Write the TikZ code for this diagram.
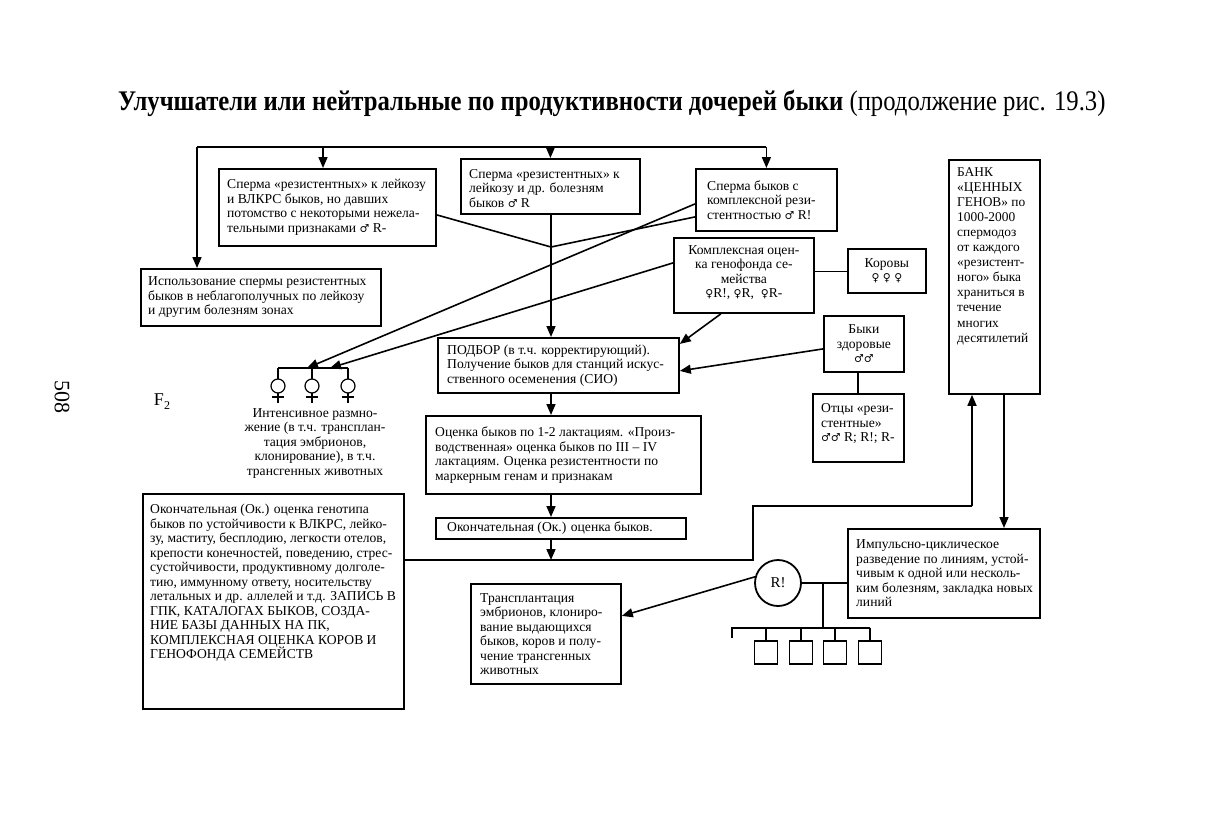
\documentclass[tikz,border=0pt]{standalone}
\usepackage{fontspec}
\setmainfont{Liberation Serif}
\newfontfamily\symfont[Scale=0.8]{DejaVu Serif}
\newcommand{\Ml}{{\symfont ♂}}
\newcommand{\Fm}{{\symfont ♀}}
\newcommand{\fsA}{\fontsize{13.6}{14.5}\selectfont}
\newcommand{\fsC}{\fontsize{13.4}{15.1}\selectfont}
\usetikzlibrary{arrows.meta}
\begin{document}
\begin{tikzpicture}[x=1pt,y=-1pt,
  bx/.style={draw, line width=1.8pt, inner sep=0pt, anchor=north west},
  tx/.style={inner sep=0pt, align=left, anchor=west, font=\fsA},
  txc/.style={inner sep=0pt, align=center, font=\fsA},
  ln/.style={line width=1.6pt},
  arr/.style={line width=1.6pt, -{Triangle[length=11pt,width=9pt]}}]
\useasboundingbox (0,0) rectangle (1225,815);
\fill[white] (0,0) rectangle (1225,815);

% title and page marks
\node[inner sep=0pt, anchor=west] (title) at (118,103) {\scalebox{1}[1.15]{\fontsize{24.7}{28}\selectfont\textbf{Улучшатели или нейтральные по продуктивности дочерей быки} (продолжение рис. 19.3)}};
\node[inner sep=0pt, rotate=-90] (page) at (62,397) {\fontsize{22}{22}\selectfont 508};
\node[inner sep=0pt] (ftwo) at (162,402) {\fontsize{18}{18}\selectfont F\raisebox{-4pt}{\fontsize{12}{12}\selectfont 2}};

% boxes
\node[bx, minimum width=217pt, minimum height=77pt] (b1) at (218,168) {};
\node[tx] (b1t) at ([xshift=9pt]b1.west) {Сперма «резистентных» к лейкозу\\и ВЛКРС быков, но давших\\потомство с некоторыми нежела-\\тельными признаками \Ml{} R-};
\node[bx, minimum width=179pt, minimum height=55pt] (b2) at (460,158) {};
\node[tx] (b2t) at ([xshift=9pt,yshift=-2pt]b2.west) {Сперма «резистентных» к\\лейкозу и др. болезням\\быков \Ml{} R};
\node[bx, minimum width=141pt, minimum height=62pt] (b3) at (695,168) {};
\node[tx] (b3t) at ([xshift=12pt]b3.west) {Сперма быков с\\комплексной рези-\\стентностью \Ml{} R!};
\node[bx, minimum width=91pt, minimum height=234pt] (bank) at (948,159) {};
\node[tx, anchor=north west, font=\fsC] (bankt) at ([xshift=9pt,yshift=-8pt]bank.north west) {БАНК\\«ЦЕННЫХ\\ГЕНОВ» по\\1000-2000\\спермодоз\\от каждого\\«резистент-\\ного» быка\\храниться в\\течение\\многих\\десятилетий};
\node[bx, minimum width=240pt, minimum height=57pt] (use) at (140,268) {};
\node[tx] (uset) at ([xshift=8pt]use.west) {Использование спермы резистентных\\быков в неблагополучных по лейкозу\\и другим болезням зонах};
\node[bx, minimum width=140pt, minimum height=75pt] (kompl) at (673,237) {};
\node[txc] (komplt) at ([yshift=3pt]kompl.center) {Комплексная оцен-\\ка генофонда се-\\мейства\\\Fm R!, \Fm R, \ \Fm R-};
\node[bx, minimum width=78pt, minimum height=44pt] (cows) at (847,248) {};
\node[txc] (cowst) at (cows.center) {Коровы\\\Fm\ \Fm\ \Fm};
\node[bx, minimum width=80pt, minimum height=56pt] (bulls) at (823,315) {};
\node[txc] (bullst) at (bulls.center) {Быки\\здоровые\\\Ml\Ml};
\node[bx, minimum width=91pt, minimum height=68pt] (fath) at (812,393) {};
\node[tx] (fatht) at ([xshift=9pt,yshift=4pt]fath.west) {Отцы «рези-\\стентные»\\\Ml\Ml{} R; R!; R-};
\node[bx, minimum width=241pt, minimum height=55pt] (podbor) at (437,337) {};
\node[tx] (podbort) at ([xshift=10pt]podbor.west) {ПОДБОР (в т.ч. корректирующий).\\Получение быков для станций искус-\\ственного осеменения (СИО)};
\node[bx, minimum width=275pt, minimum height=78pt] (ocenka) at (425,415) {};
\node[tx] (ocenkat) at ([xshift=10pt]ocenka.west) {Оценка быков по 1-2 лактациям. «Произ-\\водственная» оценка быков по III – IV\\лактациям. Оценка резистентности по\\маркерным генам и признакам};
\node[bx, minimum width=250pt, minimum height=21pt] (ok) at (435,517) {};
\node[tx] (okt) at ([xshift=12pt]ok.west) {Окончательная (Ок.) оценка быков.};
\node[bx, minimum width=261pt, minimum height=215pt] (big) at (142,493) {};
\node[tx, anchor=north west] (bigt) at ([xshift=8pt,yshift=-11pt]big.north west) {Окончательная (Ок.) оценка генотипа\\быков по устойчивости к ВЛКРС, лейко-\\зу, маститу, бесплодию, легкости отелов,\\крепости конечностей, поведению, стрес-\\сустойчивости, продуктивному долголе-\\тию, иммунному ответу, носительству\\летальных и др. аллелей и т.д. ЗАПИСЬ В\\ГПК, КАТАЛОГАХ БЫКОВ, СОЗДА-\\НИЕ БАЗЫ ДАННЫХ НА ПК,\\КОМПЛЕКСНАЯ ОЦЕНКА КОРОВ И\\ГЕНОФОНДА СЕМЕЙСТВ};
\node[bx, minimum width=150pt, minimum height=100pt] (transpl) at (470,583) {};
\node[tx] (transplt) at ([xshift=10pt]transpl.west) {Трансплантация\\эмбрионов, клониро-\\вание выдающихся\\быков, коров и полу-\\чение трансгенных\\животных};
\node[bx, minimum width=192pt, minimum height=89pt] (impuls) at (847,528) {};
\node[tx] (impulst) at ([xshift=9pt]impuls.west) {Импульсно-циклическое\\разведение по линиям, устой-\\чивым к одной или несколь-\\ким болезням, закладка новых\\линий};
\node[draw, circle, line width=1.8pt, minimum size=46pt, inner sep=0pt, font=\fontsize{15}{15}\selectfont] (R) at (778,583) {R!};

% female group
\node[txc] (femt) at (315,443) {Интенсивное размно-\\жение (в т.ч. трансплан-\\тация эмбрионов,\\клонирование), в т.ч.\\трансгенных животных};
\coordinate (fa1) at (307,368);
\coordinate (fa2) at (330,368);
\draw[ln] (278,368) -- (348,368);
\foreach \xx in {278,312,348}{
  \draw[ln] (\xx,368) -- (\xx,379);
  \draw[line width=1.2pt] (\xx,386) circle (7);
  \draw[line width=1.2pt] (\xx,393) -- (\xx,403);
  \draw[line width=1.2pt] (\xx-6,397) -- (\xx+6,397);
}

% top distribution line
\coordinate (tl) at (197,147);
\coordinate (t1) at (323,147);
\draw[ln] (tl) -- (b3.north |- tl);
\draw[arr] (tl) -- (tl |- use.north);
\draw[arr] (t1) -- (t1 |- b1.north);
\draw[arr] (b2.north |- tl) -- (b2.north);
\draw[arr] (b3.north |- tl) -- (b3.north);

% V junction and main column
\coordinate (vj) at (551,247);
\draw[ln] ([yshift=-7.5pt]b1.east) -- (vj) -- ([yshift=-17pt]b3.west);
\draw[arr] (vj |- b2.south) -- (vj |- podbor.north);
\draw[arr] (vj |- podbor.south) -- (vj |- ocenka.north);
\draw[arr] (vj |- ocenka.south) -- (vj |- ok.north);

% to female group
\draw[arr] ([yshift=-4pt]b3.west) -- (fa1);
\draw[arr] ([yshift=12.5pt]kompl.west) -- (fa2);

% to podbor
\draw[arr] ([xshift=-23pt]kompl.south) -- ([yshift=21.5pt]podbor.east);
\draw[arr] ([yshift=-5pt]bulls.west) -- ([yshift=-5.5pt]podbor.east);
\draw[ln] ([yshift=4pt]kompl.east) -- ([yshift=4pt]kompl.east -| cows.west);
\draw[ln] (bulls.south -| 858,0) -- (fath.north -| 858,0);

% bus to bank
\coordinate (bus1) at (753,560);
\coordinate (bus2) at (753,506);
\coordinate (bus3) at (972,506);
\draw[ln] (big.east |- bus1) -- (bus1) -- (bus2) -- (bus3);
\draw[arr] (bus3) -- (bus3 |- bank.south);
\draw[arr] (vj |- ok.south) -- (vj |- bus1);
\coordinate (bk) at (1004,400);
\draw[arr] (bk |- bank.south) -- (bk |- impuls.north);

% R! lines
\draw[ln] (R.east) -- (R.east -| impuls.west);
\coordinate (rj) at (823,583);
\coordinate (rb) at (823,628);
\draw[ln] (rj) -- (rb);
\draw[ln] (732,638) -- (732,628) -- (870,628);
\foreach \xx/\nm in {766/sqa,801/sqb,835/sqc,870/sqd}{
  \node[draw, line width=1.6pt, minimum size=23pt, inner sep=0pt, anchor=north] (\nm) at (\xx,640) {};
  \draw[ln] (\nm.north |- rb) -- (\nm.north);
}
\draw[arr] (R.165) -- ([yshift=18pt]transpl.east);
\end{tikzpicture}
\end{document}
